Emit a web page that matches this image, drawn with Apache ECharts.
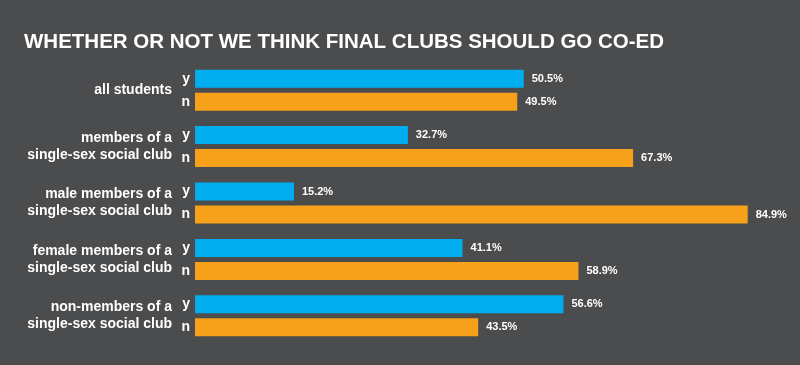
<!DOCTYPE html>
<html><head><meta charset="utf-8">
<script src="https://cdn.jsdelivr.net/npm/echarts@6/dist/echarts.min.js"></script>
<style>html,body{margin:0;padding:0;background:#4b4c4e}#c{width:800px;height:365px}</style>
</head><body><div id="c"></div>
<script>
const categories = ['all students','members of a\nsingle-sex social club','male members of a\nsingle-sex social club','female members of a\nsingle-sex social club','non-members of a\nsingle-sex social club'];
const yesValues = [50.5, 32.7, 15.2, 41.1, 56.6];
const noValues = [49.5, 67.3, 84.9, 58.9, 43.5];
const seriesNames = ['y','n'];
const chart = echarts.init(document.getElementById('c'));
const valLabel = {show:true, position:'right', distance:8, color:'#fff', fontWeight:'bold', fontSize:11, fontFamily:'Liberation Sans, Arial', formatter: p => p.value.toFixed(1)+'%'};
const ynLabel = name => ({show:true, position:'left', distance:5, color:'#fff', fontWeight:'bold', fontSize:14, fontFamily:'Liberation Sans, Arial', formatter: () => name});
chart.setOption({
  backgroundColor:'#4b4c4e',
  animation:false,
  title:{text:'WHETHER OR NOT WE THINK FINAL CLUBS SHOULD GO CO-ED', left:19, top:27, textStyle:{color:'#fff', fontSize:20.5, fontWeight:'bold', fontFamily:'Liberation Sans, Arial'}},
  grid:{left:195, right:10, top:62, bottom:21},
  xAxis:{type:'value', min:0, max:91.4, show:false},
  yAxis:[
    {type:'category', data:categories, inverse:true, axisLine:{show:false}, axisTick:{show:false},
     axisLabel:{margin:23, color:'#fff', fontWeight:'bold', fontSize:14, lineHeight:17, fontFamily:'Liberation Sans, Arial', align:'right'}},
    {type:'category', data:categories, inverse:true, show:false}
  ],
  series:[
    {name:seriesNames[0], type:'bar', data:yesValues, barWidth:18, barGap:'28%', itemStyle:{color:'#00aeef'}, label:valLabel},
    {name:seriesNames[1], type:'bar', data:noValues, barWidth:18, barGap:'28%', itemStyle:{color:'#f7a11a'}, label:valLabel},
    {type:'bar', yAxisIndex:1, data:yesValues, barWidth:18, barGap:'28%', itemStyle:{color:'rgba(0,0,0,0)'}, label:ynLabel(seriesNames[0]), silent:true},
    {type:'bar', yAxisIndex:1, data:noValues, barWidth:18, barGap:'28%', itemStyle:{color:'rgba(0,0,0,0)'}, label:ynLabel(seriesNames[1]), silent:true}
  ]
});
</script></body></html>
